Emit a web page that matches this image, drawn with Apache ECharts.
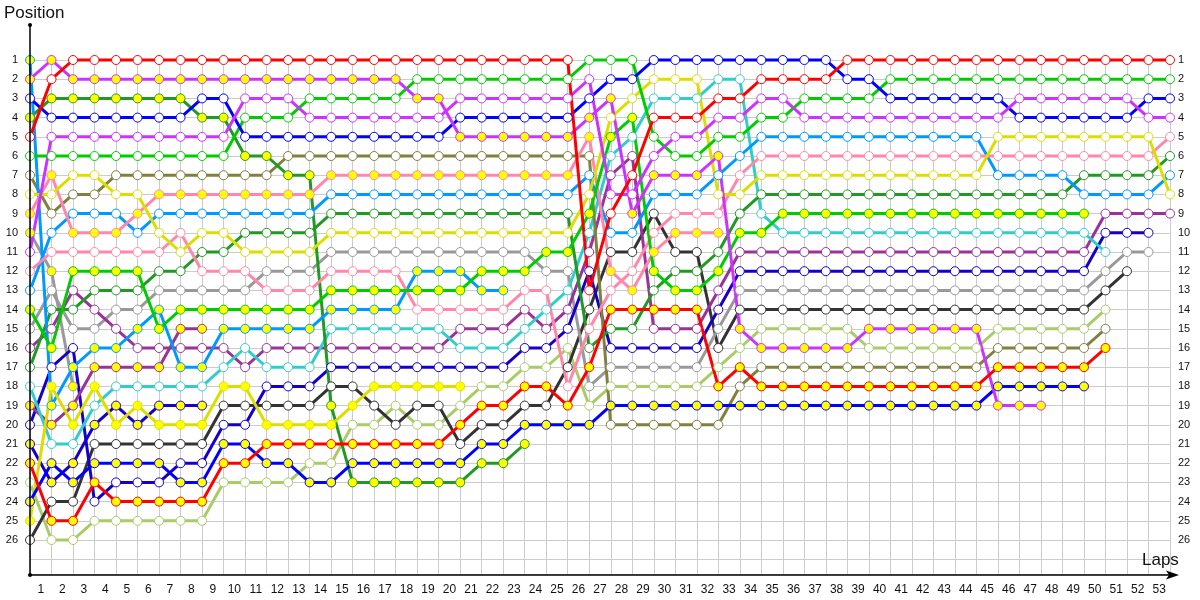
<!DOCTYPE html>
<html><head><meta charset="utf-8">
<script src="https://cdn.jsdelivr.net/npm/echarts@6/dist/echarts.min.js"></script>
<style>html,body{margin:0;padding:0;background:#fff}#c{width:1200px;height:600px}</style>
</head><body><div id="c"></div>
<script>
// ---- tick labels ----
const lapLabels = ['1','2','3','4','5','6','7','8','9','10','11','12','13','14','15','16','17','18','19','20',
  '21','22','23','24','25','26','27','28','29','30','31','32','33','34','35','36','37','38','39','40',
  '41','42','43','44','45','46','47','48','49','50','51','52','53'];
const positionLabels = [1,2,3,4,5,6,7,8,9,10,11,12,13,14,15,16,17,18,19,20,21,22,23,24,25,26];

// ---- positions per lap (index = lap, starting at lap 0 = grid) ----
const red1 = [5,2,1,1,1,1,1,1,1,1, 1,1,1,1,1,1,1,1,1,1, 1,1,1,1,1,1,13,9,7,4, 4,4,3,3,2,2,2,2,1,1, 1,1,1,1,1,1,1,1,1,1, 1,1,1,1];
const red2 = [22,25,25,23,24,24,24,24,24,22, 22,21,21,21,21,21,21,21,21,21, 20,19,19,18,18,19,17,14,14,14, 14,14,18,17,18,18,18,18,18,18, 18,18,18,18,18,17,17,17,17,17, 16];
const magentaW = [11,5,5,5,5,5,5,5,5,5, 3,3,3,4,4,4,4,4,4,4, 3,3,3,3,3,3,2,8,8,6, 5,5,4,4,3,3,4,4,4,4, 4,4,4,4,4,4,3,3,3,3, 3,3,4,4];
const magentaY = [2,1,2,2,2,2,2,2,2,2, 2,2,2,2,2,2,2,2,3,3, 5,5,5,5,5,5,4,3,9,7, 7,7,6,15,16,16,16,16,16,15, 15,15,15,15,15,19,19,19];
const blueW = [3,4,4,4,4,4,4,4,3,3, 5,5,5,5,5,5,5,5,5,5, 4,4,4,4,4,4,3,2,2,1, 1,1,1,1,1,1,1,1,2,2, 3,3,3,3,3,3,4,4,4,4, 4,4,3,3];
const blueY = [24,22,23,22,22,22,22,23,23,21, 21,22,22,23,23,22,22,22,22,22, 22,21,21,20,20,20,20,19,19,19, 19,19,19,19,19,19,19,19,19,19, 19,19,19,19,19,18,18,18,18,18];
const greenW = [6,6,6,6,6,6,6,6,6,6, 4,4,4,3,3,3,3,3,2,2, 2,2,2,2,2,2,1,1,1,5, 6,6,5,5,4,4,3,3,3,3, 2,2,2,2,2,2,2,2,2,2, 2,2,2,2];
const greenY = [14,16,12,12,12,12,15,14,14,14, 14,14,14,14,13,13,13,13,13,13, 13,12,12,12,11,11,9,5,4,12, 13,13,12,10,10,9,9,9,9,9, 9,9,9,9,9,9,9,9,9,9];
const darkGreenY = [4,3,3,3,3,3,3,3,4,4, 6,6,7,7,19,23,23,23,23,23, 23,22,22,21];
const darkGreenW = [17,14,14,13,13,13,12,12,11,11, 10,10,10,10,9,9,9,9,9,9, 9,9,9,9,9,9,16,15,15,13, 12,12,11,9,8,8,8,8,8,8, 8,8,8,8,8,8,8,8,8,7, 7,7,7,6];
const oliveW = [7,9,8,8,7,7,7,7,7,7, 7,7,6,6,6,6,6,6,6,6, 6,6,6,6,6,6,6,20,20,20, 20,20,20,18,17,17,17,17,17,17, 17,17,17,17,17,16,16,16,16,16, 15];
const yellowW = [8,8,7,7,8,8,10,11,10,10, 11,11,11,11,10,10,10,10,10,10, 10,10,10,10,10,10,8,4,3,2, 2,2,8,8,7,7,7,7,7,7, 7,7,7,7,7,5,5,5,5,5, 5,5,5,8];
const yellowY = [25,18,20,18,20,19,20,20,20,18, 18,20,20,20,20,19,18,18,18,18, 18];
const pinkY = [9,7,10,10,10,9,8,8,8,8, 8,8,8,8,7,7,7,7,7,7, 7,7,7,7,7,7,5,12,13,11, 10,10,10];
const pinkW = [12,11,11,11,11,11,11,10,12,12, 12,13,13,13,12,12,12,12,14,14, 14,14,14,13,13,18,15,13,12,10, 9,9,9,7,6,6,6,6,6,6, 6,6,6,6,6,6,6,6,6,6, 6,6,6,5];
const skyY = [1,19,17,16,16,15,14,17,17,15, 15,15,15,15,14,14,14,14,12,12, 12,13,13];
const skyW = [13,10,9,9,9,10,9,9,9,9, 9,9,9,9,8,8,8,8,8,8, 8,8,8,8,8,8,7,10,10,8, 8,8,7,6,5,5,5,5,5,5, 5,5,5,5,5,7,7,7,7,8, 8,8,8,7];
const greyY = [10,12,18];
const greyW = [15,13,15,15,14,14,13,13,13,13, 13,12,12,12,11,11,11,11,11,11, 11,11,11,11,12,12,18,17,17,17, 17,17,15,13,13,13,13,13,13,13, 13,13,13,13,13,13,13,13,13,13, 12,11,11];
const darkGreyW = [26,24,24,21,21,21,21,21,21,19, 19,19,19,19,18,18,19,20,19,19, 21,20,20,19,19,17,14,11,11,9, 11,11,16,14,14,14,14,14,14,14, 14,14,14,14,14,14,14,14,14,14, 13,12];
const cyanW = [18,21,21,19,18,18,18,18,18,17, 16,17,17,17,15,15,15,15,15,15, 16,16,16,15,14,13,10,6,5,3, 3,3,2,2,9,10,10,10,10,10, 10,10,10,10,10,10,10,10,10,10, 11];
const purpleW = [16,15,13,14,15,16,16,16,16,16, 17,16,16,16,16,16,16,16,16,16, 15,15,15,14,15,14,11,7,6,15, 15,15,13,11,11,11,11,11,11,11, 11,11,11,11,11,11,11,11,11,11, 9,9,9,9];
const purpleY = [19,20,19,17,17,17,17,15,15];
const navyW = [20,17,16,24,23,23,23,22,22,20, 20,18,18,18,17,17,17,17,17,17, 17,17,17,16,16,15,12,16,16,16, 16,16,14,12,12,12,12,12,12,12, 12,12,12,12,12,12,12,12,12,12, 10,10,10];
const navyY = [21,23,22,20,19,20,19,19,19];
const lightGreenW = [23,26,26,25,25,25,25,25,25,23, 23,23,23,22,22,20,20,19,20,20, 19,18,18,17,17,16,19,18,18,18, 18,18,17,16,15,15,15,15,15,16, 16,16,16,16,16,15,15,15,15,15, 14];

const W = '#ffffff', Y = '#ffff00';
const drivers = [
  {data: lightGreenW, color: '#a8cc66', fill: W},
  {data: darkGreyW,  color: '#333333', fill: W},
  {data: greyW,      color: '#999999', fill: W},
  {data: greyY,      color: '#999999', fill: Y},
  {data: navyW,      color: '#1400c8', fill: W},
  {data: navyY,      color: '#1400c8', fill: Y},
  {data: purpleW,    color: '#993399', fill: W},
  {data: purpleY,    color: '#993399', fill: Y},
  {data: cyanW,      color: '#33cccc', fill: W},
  {data: oliveW,     color: '#808040', fill: W},
  {data: darkGreenY, color: '#229922', fill: Y},
  {data: darkGreenW, color: '#229922', fill: W},
  {data: skyY,       color: '#0099ff', fill: Y},
  {data: skyW,       color: '#0099ff', fill: W},
  {data: pinkY,      color: '#ff88aa', fill: Y},
  {data: pinkW,      color: '#ff88aa', fill: W},
  {data: yellowY,    color: '#dddd00', fill: Y},
  {data: yellowW,    color: '#dddd00', fill: W},
  {data: greenY,     color: '#00cc00', fill: Y},
  {data: greenW,     color: '#00cc00', fill: W},
  {data: blueY,      color: '#0000ff', fill: Y},
  {data: blueW,      color: '#0000ff', fill: W},
  {data: magentaY,   color: '#cc33ff', fill: Y},
  {data: magentaW,   color: '#cc33ff', fill: W},
  {data: red2,       color: '#ff0000', fill: Y},
  {data: red1,       color: '#ff0000', fill: W}
];

const FONT = 'Liberation Sans';
const gridColor = '#cccccc';

const series = drivers.map((d, k) => ({
  type: 'line',
  xAxisIndex: 0, yAxisIndex: 0,
  data: d.data.map((p, lap) => [lap, p]),
  symbol: 'circle', symbolSize: 9, showSymbol: true,
  lineStyle: {color: d.color, width: 3},
  itemStyle: {color: d.fill, borderColor: d.color, borderWidth: 1},
  emphasis: {disabled: true},
  silent: true, animation: false, z: 2
}));

const labelFmt = v => positionLabels.includes(v) ? String(v) : '';

const option = {
  animation: false,
  grid: [
    {left: 30, right: 30, top: 40.8, bottom: 25.44},
    {left: 30, right: 30, top: 55, bottom: 25.44}
  ],
  xAxis: [
    {gridIndex: 0, type: 'value', min: 0, max: 53, interval: 1,
     axisLine: {show: false}, axisTick: {show: false}, axisLabel: {show: false}, splitLine: {show: false}},
    {gridIndex: 1, type: 'value', min: 0, max: 53, interval: 1,
     axisLine: {show: false}, axisTick: {show: false}, axisLabel: {show: false},
     splitLine: {show: true, lineStyle: {color: gridColor, width: 1}}},
    {gridIndex: 1, type: 'category', data: lapLabels, boundaryGap: true, position: 'bottom',
     axisLine: {show: false}, axisTick: {show: false},
     axisLabel: {show: true, interval: 0, margin: 9, fontSize: 12, color: '#111', fontFamily: FONT},
     splitLine: {show: false}}
  ],
  yAxis: [
    {gridIndex: 0, type: 'value', inverse: true, min: 0, max: 27.8, interval: 1, position: 'left',
     axisLine: {show: false}, axisTick: {show: false},
     axisLabel: {show: true, formatter: labelFmt, margin: 12, fontSize: 11, color: '#111', fontFamily: FONT},
     splitLine: {show: true, showMinLine: false, lineStyle: {color: gridColor, width: 1}}},
    {gridIndex: 0, type: 'value', inverse: true, min: 0, max: 27.8, interval: 1, position: 'right',
     axisLine: {show: false}, axisTick: {show: false},
     axisLabel: {show: true, formatter: labelFmt, margin: 8, fontSize: 11, color: '#111', fontFamily: FONT},
     splitLine: {show: false}},
    {gridIndex: 1, type: 'value', min: 0, max: 1, show: false}
  ],
  graphic: [
    {type: 'line', shape: {x1: 30, y1: 575, x2: 30, y2: 25}, style: {stroke: '#000', lineWidth: 1.5}, z: 10},
    {type: 'line', shape: {x1: 30, y1: 575, x2: 1172, y2: 575}, style: {stroke: '#000', lineWidth: 1.5}, z: 10},
    {type: 'polygon', shape: {points: [[1166, 570.5], [1179, 575], [1166, 579.5], [1169, 575]]}, style: {fill: '#000'}, z: 10},
    {type: 'circle', shape: {cx: 30, cy: 25, r: 2}, style: {fill: '#000'}, z: 10},
    {type: 'circle', shape: {cx: 30, cy: 575, r: 2}, style: {fill: '#000'}, z: 10},
    {type: 'text', left: 4, top: 5, style: {text: 'Position', fontSize: 17, fontFamily: FONT, fill: '#111'}, z: 10},
    {type: 'text', left: 1142, top: 552, style: {text: 'Laps', fontSize: 17, fontFamily: FONT, fill: '#111'}, z: 10}
  ],
  series: series
};

const chart = echarts.init(document.getElementById('c'), null, {renderer: 'canvas'});
chart.setOption(option);
</script>
</body></html>
